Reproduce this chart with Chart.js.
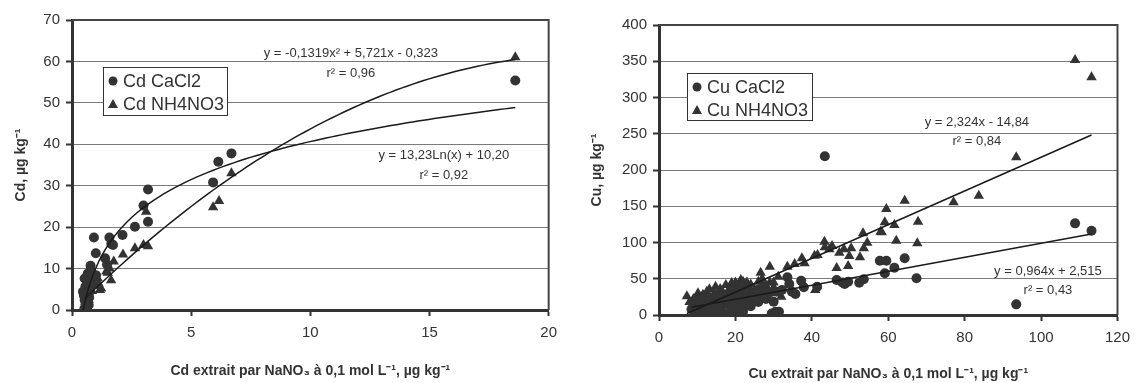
<!DOCTYPE html>
<html>
<head>
<meta charset="utf-8">
<script src="https://cdn.jsdelivr.net/npm/chart.js@4.4.1/dist/chart.umd.min.js"></script>
<style>
  html, body { margin:0; padding:0; background:#fff; }
  .wrap { position:absolute; top:0; height:383px; }
  #wrapCd { left:0; width:565px; }
  #wrapCu { left:570px; width:568px; }
</style>
</head>
<body>
<div class="wrap" id="wrapCd"><canvas id="chartCd"></canvas></div>
<div class="wrap" id="wrapCu"><canvas id="chartCu"></canvas></div>
<script>
// ─────────────────────────────────────────────────────────────────────────────
// DATA
// ─────────────────────────────────────────────────────────────────────────────

// Cd : CaCl2 (circles)
const cdCaX = [0.46,0.50,0.52,0.53,0.53,0.56,0.58,0.60,0.62,0.63,0.65,0.66,0.70,0.72,0.75,0.78,0.79,0.80,
               0.92,1.00,1.01,1.39,1.47,1.57,1.65,1.72,2.12,2.64,3.00,3.19,3.19,5.92,6.14,6.69,18.6];
const cdCaY = [4.4,3.5,0.3,2.4,7.6,5.6,0.6,0.2,4.8,1.6,6.3,8.8,1.2,3.0,4.4,10.7,9.5,6.6,
               17.5,13.7,8.4,12.5,11.0,17.5,16.0,15.7,18.1,20.1,25.2,29.1,21.3,30.8,35.8,37.8,55.4];

// Cd : NH4NO3 (triangles)
const cdNhX = [0.52,0.55,0.58,0.62,0.65,0.68,0.70,0.72,0.78,0.84,0.88,0.95,1.08,1.11,1.17,1.22,
               1.44,1.50,1.58,1.64,1.75,2.14,2.64,3.00,3.11,3.19,5.92,6.17,6.69,18.6];
const cdNhY = [0.8,2.0,3.2,1.0,5.5,4.0,2.5,7.0,8.0,4.6,6.5,5.8,7.6,6.4,4.8,5.2,
               9.3,9.0,10.0,7.2,11.7,13.4,14.9,15.7,23.7,15.4,24.8,26.3,33.0,61.0];

// Cu : CaCl2 (circles)
const cuCaX = [8.5,9.5,10.5,11.5,12.7,13.5,14.2,15.5,16.8,18,19,21,22,29.5,30.5,31.4,
               9,10,11,12,13,14,15,16,17,18,19,20,21,22,23,24,25,26,27,27.5,28,29,30,30.8,
               10,12,14,16,18,20,22,24,25,26,28,23,21,19,17,
               32.2,33.6,34.1,34.8,35.7,37.2,37.9,41.4,43.4,46.5,48,48.6,49.5,52.4,53.6,
               57.8,59.5,59.1,61.6,64.3,67.4,93.5,108.9,113.2];
const cuCaY = [8,3,6,2,4,1,2,5,2.3,1,7,2.3,5,2,4.6,4.6,
               15,20,12,18,22,15,25,20,28,22,30,18,26,32,24,20,30,35,28,39,22,31,18.3,32.1,
               10,8,10,12,15,10,15,12,25,18,35,38,35,25,15,
               34.5,52,42.8,32.1,29,47.3,38.2,39,219,48.3,45,42.8,46,44.6,49.2,
               74.9,74.9,57.5,65.2,78.2,50.6,14.7,126.4,116.3];

// Cu : NH4NO3 (triangles)
const cuNhX = [7.3,8,9,10.2,10.5,11,12,12.5,13.2,14,14.8,15.5,16,16.5,17.5,18,18.5,19,19.5,20,20.5,
               21.4,22,22.5,23,23.5,24,25,26.6,27,27.5,28,29,29,30,31.2,32,
               9.5,11.5,13,14.5,16,17,18,19,20,21,21,22,23,24,25,26,27,28,29,30,26,24,15,12,10,
               33.6,35.5,37.4,38.1,
               40.7,40.9,41.5,43.3,43.4,44.6,45.3,46.5,47.2,48.4,49.5,49.8,50.3,52.6,53.4,53.6,
               54.5,58,58.3,59.1,59.5,61.6,62.1,64.3,67.6,67.8,77.1,83.7,93.5,108.9,113.2];
const cuNhY = [26,18,22,30,15,25,20,32,35.4,24,39,28,18,33,41.4,25,36,44,30,22,40,
               48.3,35,27,45,38,30,20,58.3,42,35,28,66.6,45,38,52.8,25.3,
               12,28,18,30,36,22,32,38,45,30,40,46,32,42,35,28,50,40,30,45,46,25,15,25,18,
               66.6,70.3,78.2,71.3,
               81.8,34.5,82.8,101.1,93.3,90.6,95.2,64.8,86,90.6,67.6,81.4,92,79.6,112.7,92,
               99.7,115,114,127.8,146.2,124.1,102.5,157.7,98.9,128.7,155.4,164.6,217.5,351.7,327.8];

// trend lines as printed on the figure
const cdPolyCoef = [-0.1319, 5.721, -0.323];   // NH4NO3 : ax² + bx + c
const cdLogCoef  = [13.23, 10.20];             // CaCl2  : a·ln(x) + b
const cuNhCoef   = [2.324, -14.84];            // NH4NO3 : ax + b
const cuCaCoef   = [0.964, 2.515];             // CaCl2  : ax + b

const cdTicks = { min:0, max:20, step:5 };
const cdYTicks = { min:0, max:70, step:10 };
const cuTicks = { min:0, max:120, step:20 };
const cuYTicks = { min:0, max:400, step:50 };

// ─────────────────────────────────────────────────────────────────────────────
// helpers
// ─────────────────────────────────────────────────────────────────────────────

Chart.defaults.font.family = '"Liberation Sans", Arial, sans-serif';
Chart.defaults.color = '#333';

const INK = '#333333';

function pts(xs, ys) { return xs.map((x, i) => ({ x, y: ys[i] })); }

function curve(fn, x0, x1, n = 80) {
  const out = [];
  for (let i = 0; i <= n; i++) {
    const x = x0 + (x1 - x0) * i / n;
    out.push({ x, y: fn(x) });
  }
  return out;
}

function scatterSet(label, data, style, r) {
  return { label, data, pointStyle: style, pointRadius: r,
    backgroundColor: INK, borderColor: INK, borderWidth: 0, showLine: false, order: 2 };
}

function trendSet(data) {
  return { label: 'trend', data, showLine: true, pointRadius: 0,
    borderColor: '#1a1a1a', borderWidth: 1.5, fill: false, tension: 0, order: 1 };
}

// frame on top/right, inset legend, trend equations
const extras = {
  id: 'extras',
  afterDraw(chart, args, o) {
    const { ctx, chartArea: a, scales } = chart;
    ctx.save();
    ctx.strokeStyle = '#444'; ctx.lineWidth = 2;
    ctx.beginPath();
    ctx.moveTo(a.left, a.top); ctx.lineTo(a.right, a.top); ctx.lineTo(a.right, a.bottom);
    ctx.stroke();

    // legend
    const L = o.legend;
    const bx = a.left + L.dx, by = a.top + L.dy;
    ctx.fillStyle = '#fff';
    ctx.fillRect(bx, by, L.w, L.h);
    ctx.strokeStyle = '#333'; ctx.lineWidth = 1;
    ctx.strokeRect(bx + 0.5, by + 0.5, L.w, L.h);
    ctx.font = '18px "Liberation Sans", Arial, sans-serif';
    ctx.textBaseline = 'middle'; ctx.textAlign = 'left';
    L.items.forEach((txt, i) => {
      const cy = by + 14 + i * 23;
      ctx.fillStyle = INK;
      ctx.beginPath();
      if (i === 0) ctx.arc(bx + 10, cy, 4.5, 0, Math.PI * 2);
      else { ctx.moveTo(bx + 10, cy - 5); ctx.lineTo(bx + 15, cy + 4); ctx.lineTo(bx + 5, cy + 4); ctx.closePath(); }
      ctx.fill();
      ctx.fillText(txt, bx + 20, cy + 1);
    });

    // equations
    ctx.font = '13px "Liberation Sans", Arial, sans-serif';
    ctx.textAlign = 'center'; ctx.fillStyle = INK;
    o.labels.forEach(l => {
      ctx.fillText(l.text, scales.x.getPixelForValue(l.x), scales.y.getPixelForValue(l.y));
    });
    ctx.restore();
  }
};

function makeChart(id, cfg) {
  return new Chart(document.getElementById(id), {
    type: 'scatter',
    data: { datasets: cfg.datasets },
    options: {
      responsive: true, maintainAspectRatio: false, animation: false, events: [],
      layout: { padding: cfg.padding },
      plugins: { legend: { display: false }, tooltip: { enabled: false }, extras: cfg.extras },
      scales: {
        x: {
          type: 'linear', min: cfg.xt.min, max: cfg.xt.max,
          ticks: { stepSize: cfg.xt.step, font: { size: 15 }, color: INK, padding: 8 },
          grid: { drawOnChartArea: false, tickLength: 6, tickColor: INK, tickWidth: 2 },
          border: { color: INK, width: 3 },
          title: { display: true, text: cfg.xTitle, color: INK,
            font: { size: 14, weight: 'bold' }, padding: { top: 0, bottom: cfg.xTitlePad } },
          afterFit: s => { s.height = cfg.xH; }
        },
        y: {
          min: cfg.yt.min, max: cfg.yt.max,
          ticks: { stepSize: cfg.yt.step, font: { size: 15 }, color: INK, padding: 6 },
          grid: { color: '#7a7a7a', lineWidth: 1, tickLength: 6, tickColor: INK, tickWidth: 2 },
          border: { color: INK, width: 3 },
          title: { display: true, text: cfg.yTitle, color: INK,
            font: { size: 14, weight: 'bold' }, padding: { top: cfg.yTitlePad, bottom: 0 } },
          afterFit: s => { s.width = cfg.yW; }
        }
      }
    },
    plugins: [extras]
  });
}

// ─────────────────────────────────────────────────────────────────────────────
// Cd chart
// ─────────────────────────────────────────────────────────────────────────────

makeChart('chartCd', {
  padding: { top: 20, right: 15, left: 0, bottom: 0 },
  xt: cdTicks, yt: cdYTicks, xH: 73, yW: 72, xTitlePad: 3, yTitlePad: 13,
  xTitle: 'Cd extrait par NaNO₃ à 0,1 mol L⁻¹, µg kg⁻¹',
  yTitle: 'Cd, µg kg⁻¹',
  datasets: [
    trendSet(curve(x => cdPolyCoef[0] * x * x + cdPolyCoef[1] * x + cdPolyCoef[2], Math.min(...cdNhX), Math.max(...cdNhX))),
    trendSet(curve(x => cdLogCoef[0] * Math.log(x) + cdLogCoef[1], Math.min(...cdCaX), Math.max(...cdCaX))),
    scatterSet('Cd CaCl2', pts(cdCaX, cdCaY), 'circle', 5),
    scatterSet('Cd NH4NO3', pts(cdNhX, cdNhY), 'triangle', 6)
  ],
  extras: {
    legend: { dx: 31, dy: 47, w: 124, h: 48, items: ['Cd CaCl2', 'Cd NH4NO3'] },
    labels: [
      { text: 'y = -0,1319x² + 5,721x - 0,323', x: 11.7, y: 62 },
      { text: 'r² = 0,96', x: 11.7, y: 57 },
      { text: 'y = 13,23Ln(x) + 10,20', x: 15.6, y: 37.2 },
      { text: 'r² = 0,92', x: 15.6, y: 32.6 }
    ]
  }
});

// ─────────────────────────────────────────────────────────────────────────────
// Cu chart
// ─────────────────────────────────────────────────────────────────────────────

makeChart('chartCu', {
  padding: { top: 25, right: 16, left: 0, bottom: 0 },
  xt: cuTicks, yt: cuYTicks, xH: 68, yW: 89, xTitlePad: 0, yTitlePad: 19,
  xTitle: 'Cu extrait par NaNO₃ à 0,1 mol L⁻¹, µg kg⁻¹',
  yTitle: 'Cu, µg kg⁻¹',
  datasets: [
    trendSet(curve(x => cuNhCoef[0] * x + cuNhCoef[1], Math.min(...cuNhX), Math.max(...cuNhX), 2)),
    trendSet(curve(x => cuCaCoef[0] * x + cuCaCoef[1], Math.min(...cuCaX), Math.max(...cuCaX), 2)),
    scatterSet('Cu CaCl2', pts(cuCaX, cuCaY), 'circle', 5),
    scatterSet('Cu NH4NO3', pts(cuNhX, cuNhY), 'triangle', 6)
  ],
  extras: {
    legend: { dx: 28, dy: 48, w: 125, h: 47, items: ['Cu CaCl2', 'Cu NH4NO3'] },
    labels: [
      { text: 'y = 2,324x - 14,84', x: 83.2, y: 265 },
      { text: 'r² = 0,84', x: 83.2, y: 239 },
      { text: 'y = 0,964x + 2,515', x: 101.8, y: 60.7 },
      { text: 'r² = 0,43', x: 101.8, y: 34.5 }
    ]
  }
});
</script>
</body>
</html>
